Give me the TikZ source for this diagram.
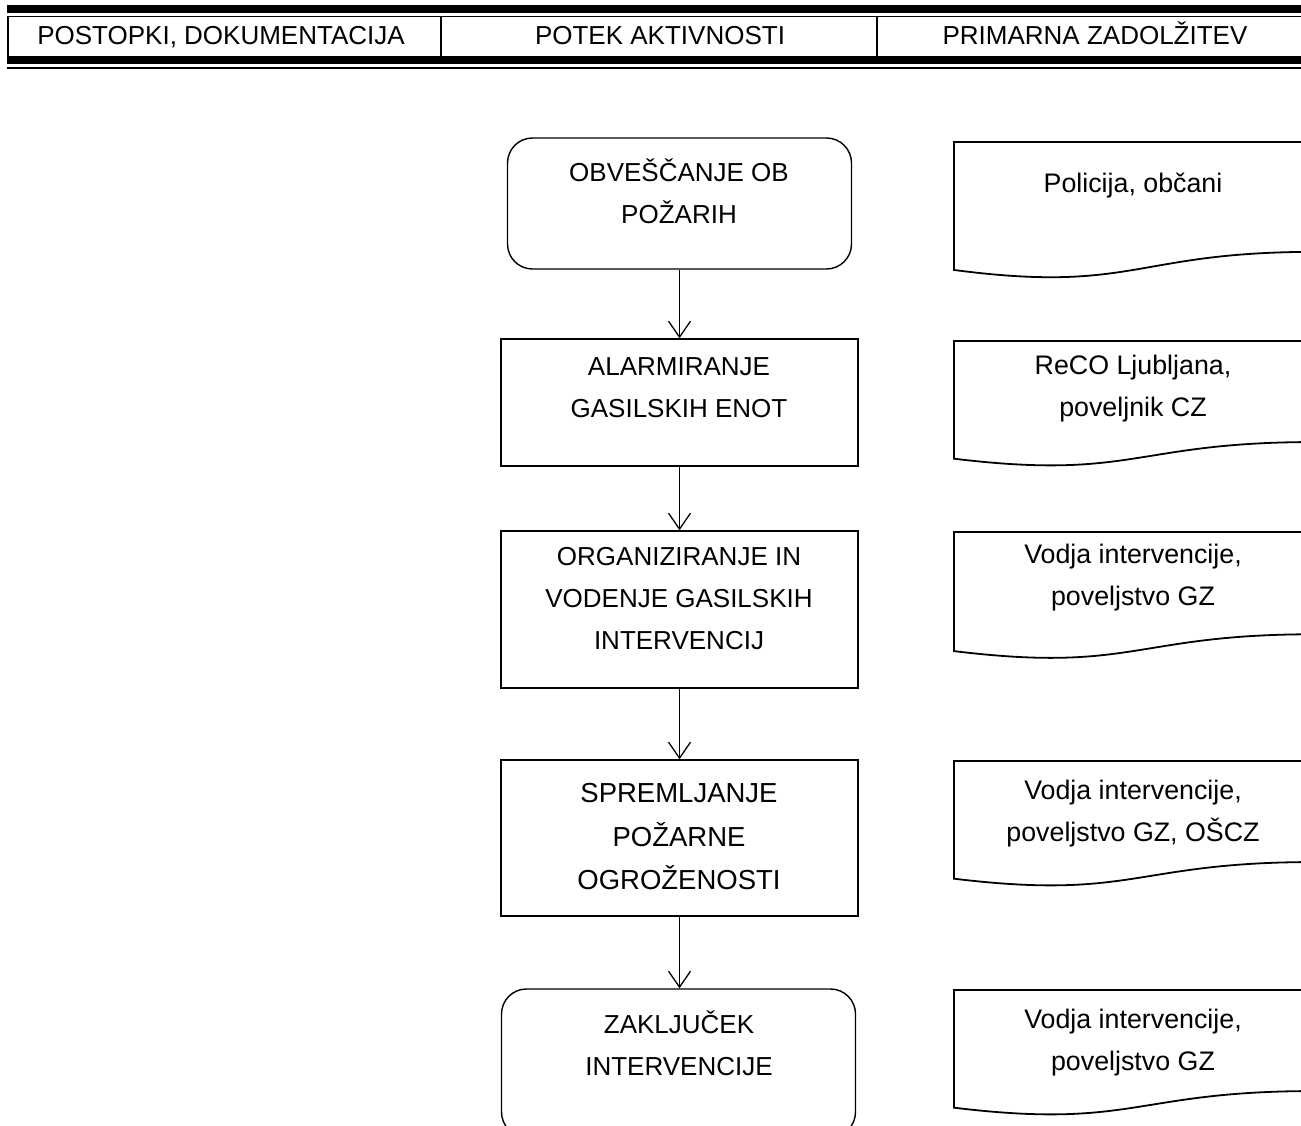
\documentclass[tikz,border=0pt]{standalone}
\usepackage{fontspec}
\setmainfont{Liberation Sans}
\usetikzlibrary{arrows.meta}
\newcommand\docshp[2]{%
  \draw[docline] (954,#1) -- (1314,#1) -- (1314,{#1+0.802*#2})
    .. controls (1134,{#1+0.802*#2}) and (1134,{#1+1.107*#2}) .. (954,{#1+0.934*#2}) -- cycle;}
\begin{document}
\begin{tikzpicture}[x=1pt,y=-1pt,
  boxline/.style={draw=black,line width=1.4pt,inner sep=0pt,anchor=center},
  docline/.style={draw=black,line width=1.8pt},
  txt/.style={align=center,inner sep=0pt,font=\fontsize{26}{42}\selectfont},
  doctxt/.style={align=center,inner sep=0pt,font=\fontsize{26.8}{42}\selectfont},
  bigtxt/.style={align=center,inner sep=0pt,font=\fontsize{27.5}{43.5}\selectfont},
  arr/.style={line width=1.3pt,-{Straight Barb[length=16pt,width=22pt,line width=1.3pt]}},
  hdr/.style={inner sep=0pt,anchor=base,font=\fontsize{26}{30}\selectfont}]
\useasboundingbox (0,0) rectangle (1301,1126);
\clip (0,0) rectangle (1301,1126);
% header
\fill (7,5) rectangle (1320,13.5);
\draw[line width=1.6pt] (7,16.5) -- (1320,16.5);
\fill (7,56) rectangle (1320,64.5);
\draw[line width=1.6pt] (7,68) -- (1320,68);
\draw[line width=1.6pt] (7.8,16.5) -- (7.8,56);
\draw[line width=1.6pt] (441,16.5) -- (441,56);
\draw[line width=1.6pt] (877,16.5) -- (877,56);
\node[hdr] (h1) at (221,45) {POSTOPKI, DOKUMENTACIJA};
\node[hdr] (h2) at (660,45) {POTEK AKTIVNOSTI};
\node[hdr] (h3) at (1095,45) {PRIMARNA ZADOLŽITEV};
% flow boxes
\node[boxline,rounded corners=25pt,minimum width=344pt,minimum height=131pt] (b1) at (679.5,203.5) {};
\node[boxline,minimum width=357pt,minimum height=127pt] (b2) at (679.5,402.5) {};
\node[boxline,minimum width=357pt,minimum height=157pt] (b3) at (679.5,609.5) {};
\node[boxline,minimum width=357pt,minimum height=156pt] (b4) at (679.5,838) {};
\node[boxline,rounded corners=25pt,minimum width=354pt,minimum height=148pt] (b5) at (678.5,1063) {};
\node[txt] (t1) at (679,191.5) {OBVEŠČANJE OB\\POŽARIH};
\node[txt] (t2) at (679,388) {ALARMIRANJE\\GASILSKIH ENOT};
\node[txt] (t3) at (679,598.5) {ORGANIZIRANJE IN\\VODENJE GASILSKIH\\INTERVENCIJ};
\node[bigtxt] (t4) at (679,837) {SPREMLJANJE\\POŽARNE\\OGROŽENOSTI};
\node[txt] (t5) at (679,1043) {ZAKLJUČEK\\INTERVENCIJE};
% arrows
\draw[arr] (b1.south) -- (b1.south |- b2.north);
\draw[arr] (b2.south) -- (b2.south |- b3.north);
\draw[arr] (b3.south) -- (b3.south |- b4.north);
\draw[arr] (b4.south) -- (b4.south |- b5.north);
% document shapes
\docshp{142}{137}
\docshp{341}{126}
\docshp{532}{127.5}
\docshp{761}{126}
\docshp{990}{126}
\node[doctxt] (d1) at (1133,186) {Policija, občani};
\node[doctxt] (d2) at (1133,388.5) {ReCO Ljubljana,\\poveljnik CZ};
\node[doctxt] (d3) at (1133,578) {Vodja intervencije,\\poveljstvo GZ};
\node[doctxt] (d4) at (1133,814) {Vodja intervencije,\\poveljstvo GZ, OŠCZ};
\node[doctxt] (d5) at (1133,1042.5) {Vodja intervencije,\\poveljstvo GZ};
\end{tikzpicture}
\end{document}
